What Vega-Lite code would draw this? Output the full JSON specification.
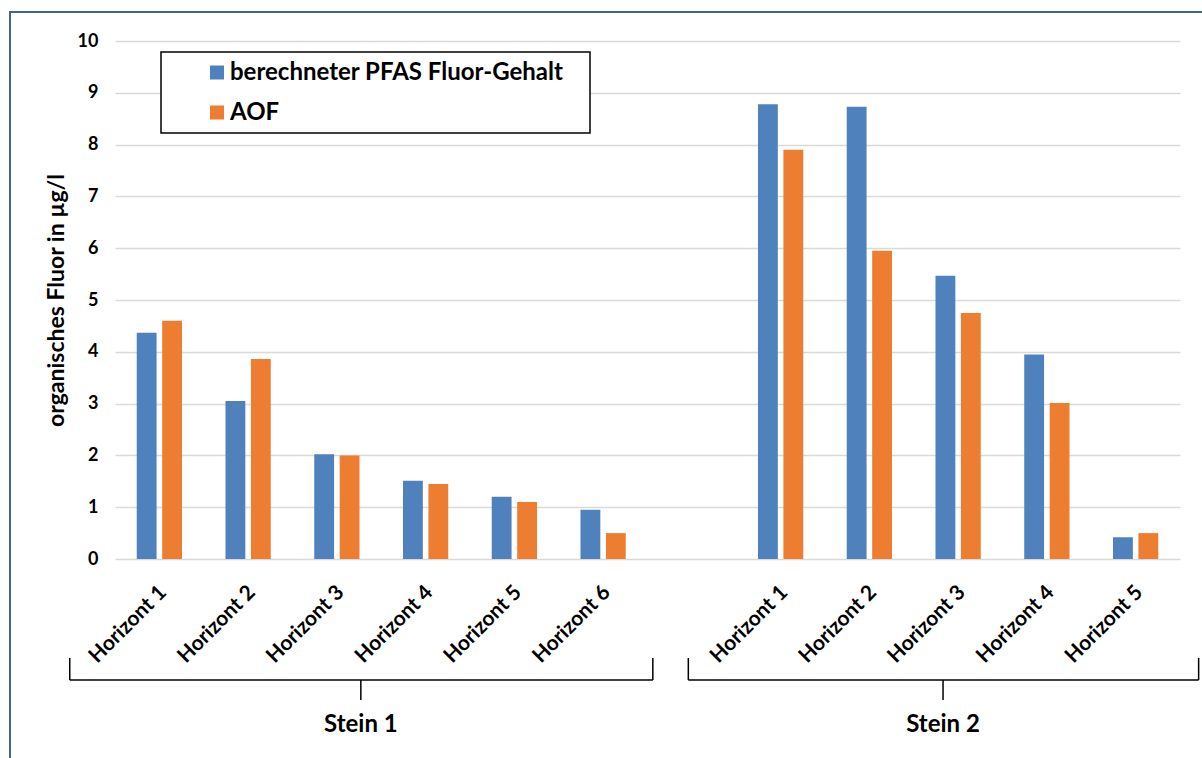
{
  "$schema": "https://vega.github.io/schema/vega-lite/v6.json",
  "autosize": {"type": "none"},
  "width": 1065,
  "height": 699,
  "padding": {"left": 115, "top": 41, "right": 22, "bottom": 18},
  "background": "white",
  "config": {"view": {"stroke": null}, "font": "Lato"},
  "datasets": {
    "bars": [
      {"cat": "S1|Horizont 1", "series": "berechneter PFAS Fluor-Gehalt", "value": 4.37},
      {"cat": "S1|Horizont 1", "series": "AOF", "value": 4.60},
      {"cat": "S1|Horizont 2", "series": "berechneter PFAS Fluor-Gehalt", "value": 3.05},
      {"cat": "S1|Horizont 2", "series": "AOF", "value": 3.86},
      {"cat": "S1|Horizont 3", "series": "berechneter PFAS Fluor-Gehalt", "value": 2.02},
      {"cat": "S1|Horizont 3", "series": "AOF", "value": 2.00},
      {"cat": "S1|Horizont 4", "series": "berechneter PFAS Fluor-Gehalt", "value": 1.51},
      {"cat": "S1|Horizont 4", "series": "AOF", "value": 1.45},
      {"cat": "S1|Horizont 5", "series": "berechneter PFAS Fluor-Gehalt", "value": 1.20},
      {"cat": "S1|Horizont 5", "series": "AOF", "value": 1.10},
      {"cat": "S1|Horizont 6", "series": "berechneter PFAS Fluor-Gehalt", "value": 0.95},
      {"cat": "S1|Horizont 6", "series": "AOF", "value": 0.50},
      {"cat": "S2|Horizont 1", "series": "berechneter PFAS Fluor-Gehalt", "value": 8.78},
      {"cat": "S2|Horizont 1", "series": "AOF", "value": 7.90},
      {"cat": "S2|Horizont 2", "series": "berechneter PFAS Fluor-Gehalt", "value": 8.73},
      {"cat": "S2|Horizont 2", "series": "AOF", "value": 5.95},
      {"cat": "S2|Horizont 3", "series": "berechneter PFAS Fluor-Gehalt", "value": 5.47},
      {"cat": "S2|Horizont 3", "series": "AOF", "value": 4.75},
      {"cat": "S2|Horizont 4", "series": "berechneter PFAS Fluor-Gehalt", "value": 3.95},
      {"cat": "S2|Horizont 4", "series": "AOF", "value": 3.01},
      {"cat": "S2|Horizont 5", "series": "berechneter PFAS Fluor-Gehalt", "value": 0.42},
      {"cat": "S2|Horizont 5", "series": "AOF", "value": 0.50}
    ],
    "groups": [
      {"group": "Stein 1", "start": -0.51, "mid": 2.77, "end": 6.06},
      {"group": "Stein 2", "start": 6.46, "mid": 9.33, "end": 12.21}
    ]
  },
  "resolve": {"scale": {"x": "independent"}},
  "layer": [
    {
      "data": {"name": "bars"},
      "mark": {"type": "bar"},
      "encoding": {
        "x": {
          "field": "cat",
          "type": "nominal",
          "sort": null,
          "scale": {
            "domain": ["S1|Horizont 1", "S1|Horizont 2", "S1|Horizont 3", "S1|Horizont 4", "S1|Horizont 5", "S1|Horizont 6", "gap", "S2|Horizont 1", "S2|Horizont 2", "S2|Horizont 3", "S2|Horizont 4", "S2|Horizont 5"],
            "paddingInner": 0.49,
            "paddingOuter": 0.245
          },
          "axis": {
            "orient": "bottom",
            "offset": -181,
            "domain": false,
            "ticks": false,
            "grid": false,
            "title": null,
            "labelAngle": -45,
            "labelAlign": "right",
            "labelBaseline": "middle",
            "labelPadding": 30,
            "labelOffset": 4,
            "labelOverlap": false,
            "labelBound": false,
            "labelFont": "Lato",
            "labelFontSize": 21,
            "labelFontWeight": "bold",
            "labelColor": "black",
            "labelExpr": "indexof(datum.label, '|') >= 0 ? split(datum.label, '|')[1] : ''"
          }
        },
        "xOffset": {
          "field": "series",
          "type": "nominal",
          "sort": ["berechneter PFAS Fluor-Gehalt", "AOF"],
          "scale": {"paddingInner": 0.22, "paddingOuter": 0}
        },
        "y": {
          "field": "value",
          "type": "quantitative",
          "scale": {"domain": [-3.494, 10], "nice": false, "zero": false},
          "axis": {
            "values": [0, 1, 2, 3, 4, 5, 6, 7, 8, 9, 10],
            "grid": true,
            "gridColor": "#d9d9d9",
            "gridWidth": 1.5,
            "domain": false,
            "ticks": false,
            "labelFont": "Lato",
            "labelFontSize": 18,
            "labelFontWeight": "bold",
            "labelColor": "black",
            "labelPadding": 17,
            "title": "organisches Fluor in µg/l",
            "titleFont": "Lato",
            "titleFontSize": 23,
            "titleFontWeight": "bold",
            "titleColor": "black",
            "titleAngle": -90,
            "titleX": -59,
            "titleY": 259,
            "titleAlign": "center",
            "titleBaseline": "middle"
          }
        },
        "color": {
          "field": "series",
          "type": "nominal",
          "scale": {"domain": ["berechneter PFAS Fluor-Gehalt", "AOF"], "range": ["#4F81BD", "#ED7D31"]},
          "legend": {
            "title": null,
            "orient": "none",
            "legendX": 46,
            "legendY": 11,
            "direction": "vertical",
            "strokeColor": "black",
            "fillColor": "white",
            "padding": 8.5,
            "rowPadding": 16,
            "symbolType": "square",
            "symbolSize": 196,
            "symbolStrokeWidth": 0,
            "symbolOpacity": 1,
            "symbolOffset": 35.5,
            "labelOffset": 1,
            "labelFont": "Lato",
            "labelFontSize": 24,
            "labelFontWeight": "bold",
            "labelColor": "black",
            "labelLimit": 600,
            "labelExpr": "datum.label + '\u2003\u200b'",
            "encode": {"legend": {"update": {"strokeWidth": {"value": 1.5}}}}
          }
        }
      }
    },
    {
      "data": {"name": "groups"},
      "layer": [
        {
          "mark": {"type": "rule", "color": "black", "strokeWidth": 1.5, "clip": false},
          "encoding": {
            "x": {"field": "start", "type": "quantitative", "scale": {"domain": [0, 12], "nice": false, "zero": false}, "axis": null},
            "x2": {"field": "end"},
            "y": {"datum": -2.336}
          }
        },
        {
          "mark": {"type": "rule", "color": "black", "strokeWidth": 1.5, "clip": false},
          "encoding": {
            "x": {"field": "start", "type": "quantitative"},
            "y": {"datum": -2.336},
            "y2": {"datum": -1.91}
          }
        },
        {
          "mark": {"type": "rule", "color": "black", "strokeWidth": 1.5, "clip": false},
          "encoding": {
            "x": {"field": "end", "type": "quantitative"},
            "y": {"datum": -2.336},
            "y2": {"datum": -1.91}
          }
        },
        {
          "mark": {"type": "rule", "color": "black", "strokeWidth": 1.5, "clip": false},
          "encoding": {
            "x": {"field": "mid", "type": "quantitative"},
            "y": {"datum": -2.336},
            "y2": {"datum": -2.72}
          }
        },
        {
          "mark": {"type": "text", "font": "Lato", "fontSize": 24, "fontWeight": "bold", "color": "black", "align": "center", "baseline": "middle", "clip": false},
          "encoding": {
            "x": {"field": "mid", "type": "quantitative"},
            "y": {"datum": -3.2},
            "text": {"field": "group"}
          }
        },
        {
          "data": {"values": [{"frame": "border"}]},
          "mark": {"type": "rect", "fill": null, "fillOpacity": 0, "stroke": "#416880", "strokeWidth": 2, "clip": false},
          "encoding": {
            "x": {"datum": -1.183},
            "x2": {"datum": 14},
            "y": {"datum": 10.56},
            "y2": {"datum": -6}
          }
        }
      ]
    }
  ]
}
